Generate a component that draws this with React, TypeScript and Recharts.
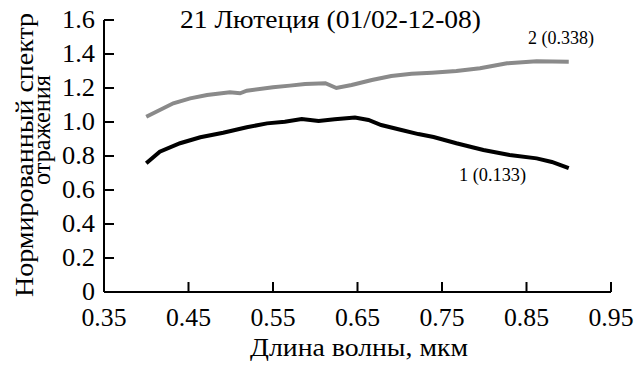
import { LineChart, Line, XAxis, YAxis } from 'recharts';

// wavelength (µm) and normalized reflectance
const wl1 = [0.4, 0.416, 0.44, 0.464, 0.491, 0.519, 0.543, 0.564, 0.584, 0.604, 0.623, 0.647, 0.663, 0.678, 0.702, 0.722, 0.74, 0.767, 0.799, 0.83, 0.862, 0.88, 0.9];
const refl1 = [0.757, 0.825, 0.875, 0.91, 0.937, 0.969, 0.992, 1.002, 1.018, 1.006, 1.016, 1.027, 1.012, 0.982, 0.953, 0.929, 0.912, 0.875, 0.835, 0.806, 0.786, 0.765, 0.728];

const wl2 = [0.4, 0.432, 0.452, 0.472, 0.499, 0.511, 0.519, 0.55, 0.57, 0.588, 0.612, 0.625, 0.643, 0.667, 0.69, 0.714, 0.738, 0.767, 0.795, 0.827, 0.862, 0.9];
const refl2 = [1.031, 1.11, 1.139, 1.159, 1.175, 1.169, 1.184, 1.204, 1.214, 1.224, 1.228, 1.2, 1.218, 1.247, 1.271, 1.284, 1.29, 1.3, 1.316, 1.345, 1.357, 1.355];

const xTicks = [0.35, 0.45, 0.55, 0.65, 0.75, 0.85, 0.95];
const yTicks = [0, 0.2, 0.4, 0.6, 0.8, 1.0, 1.2, 1.4, 1.6];

const FONT = '"Liberation Serif", "Times New Roman", serif';

const series1 = wl1.map((w, i) => ({ wl: w, v: refl1[i] }));
const series2 = wl2.map((w, i) => ({ wl: w, v: refl2[i] }));

function XTick({ x, y, payload }: any) {
  return (
    <g>
      <line x1={x} y1={y - 6} x2={x} y2={y - 16} stroke="#000" strokeWidth={2} />
      <text
        x={x}
        y={y}
        dy={28}
        textAnchor="middle"
        textLength={45}
        lengthAdjust="spacingAndGlyphs"
        fontSize={25}
        fontFamily={FONT}
        fill="#000"
      >
        {payload.value.toFixed(2)}
      </text>
    </g>
  );
}

function YTick({ x, y, payload }: any) {
  const label = payload.value === 0 ? '0' : payload.value.toFixed(1);
  return (
    <g>
      <line x1={x + 9} y1={y} x2={x + 19} y2={y} stroke="#000" strokeWidth={2} />
      <text
        x={x}
        y={y}
        dy={8}
        textAnchor="end"
        textLength={label.length === 1 ? 13 : 33}
        lengthAdjust="spacingAndGlyphs"
        fontSize={25}
        fontFamily={FONT}
        fill="#000"
      >
        {label}
      </text>
    </g>
  );
}

export default function App() {
  return (
    <div style={{ width: 636, height: 365, background: '#fff' }}>
      <style>{'body{margin:0}'}</style>
      <LineChart width={636} height={365} margin={{ top: 20, right: 25, bottom: 28, left: 44 }}>
        <XAxis
          dataKey="wl"
          type="number"
          domain={[0.35, 0.95]}
          ticks={xTicks}
          allowDuplicatedCategory={false}
          axisLine={{ stroke: '#000', strokeWidth: 2 }}
          tickLine={false}
          tickSize={0}
          tickMargin={6}
          height={45}
          tick={<XTick />}
          interval={0}
        />
        <YAxis
          type="number"
          domain={[0, 1.6]}
          ticks={yTicks}
          axisLine={{ stroke: '#000', strokeWidth: 2 }}
          tickLine={false}
          tickSize={0}
          tickMargin={9}
          width={60}
          tick={<YTick />}
          interval={0}
        />
        <Line data={series2} dataKey="v" stroke="#8a8a8a" strokeWidth={4} dot={false} isAnimationActive={false} />
        <Line data={series1} dataKey="v" stroke="#000" strokeWidth={4} dot={false} isAnimationActive={false} />
        <text x={180} y={28} textLength={301} lengthAdjust="spacingAndGlyphs" fontSize={25} fontFamily={FONT} fill="#000">
          21 Лютеция (01/02-12-08)
        </text>
        <text x={528} y={44} textLength={66} lengthAdjust="spacingAndGlyphs" fontSize={18} fontFamily={FONT} fill="#000">
          2 (0.338)
        </text>
        <text x={459} y={181} textLength={67} lengthAdjust="spacingAndGlyphs" fontSize={18} fontFamily={FONT} fill="#000">
          1 (0.133)
        </text>
        <text x={250} y={356} textLength={218} lengthAdjust="spacingAndGlyphs" fontSize={25} fontFamily={FONT} fill="#000">
          Длина волны, мкм
        </text>
        <text transform="translate(33,297) rotate(-90)" textLength={284} lengthAdjust="spacingAndGlyphs" fontSize={25} fontFamily={FONT} fill="#000">
          Нормированный спектр
        </text>
        <text transform="translate(50,185) rotate(-90)" textLength={110} lengthAdjust="spacingAndGlyphs" fontSize={25} fontFamily={FONT} fill="#000">
          отражения
        </text>
      </LineChart>
    </div>
  );
}
